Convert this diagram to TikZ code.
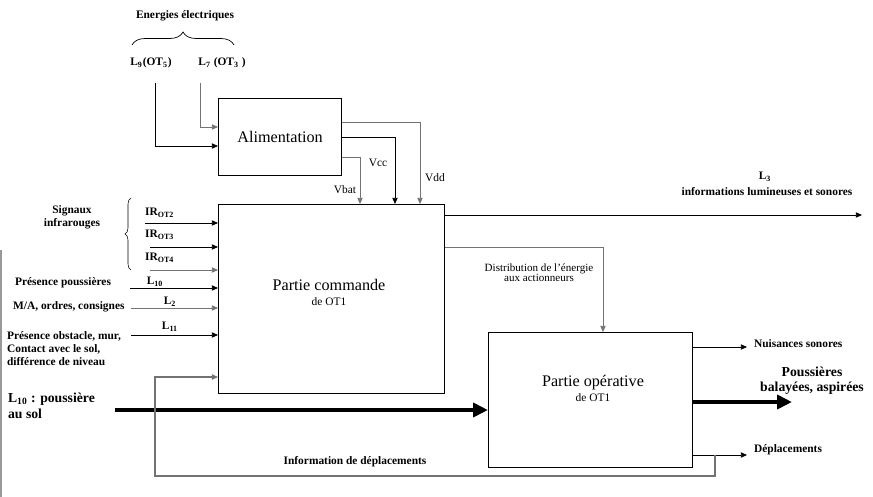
\documentclass[tikz,border=0pt]{standalone}
\usepackage{fontspec}
\setmainfont{Liberation Serif}
\usetikzlibrary{arrows.meta,decorations.pathreplacing}

\begin{document}
\begin{tikzpicture}[x=0.02cm,y=-0.02cm,
		bloc/.style={draw,line width=0.7pt,anchor=north west,inner sep=0pt},
		petit/.style={font=\fontsize{6.5}{7.5}\selectfont\bfseries,inner sep=1pt},
		fin/.style={font=\fontsize{6.5}{7.5}\selectfont,inner sep=1pt},
		grand/.style={font=\fontsize{9.2}{11}\selectfont,inner sep=1pt},
		arr/.style={-{Triangle[length=3.5pt,width=3pt]},line width=0.5pt},
		gros/.style={-{Triangle[length=0.3cm,width=0.28cm]},line width=2.8pt},
		gris/.style={draw=black!55}]
		\useasboundingbox (0,0) rectangle (873,497);
		% bord gauche du scan
		\draw[black!40,line width=0.8pt] (1,250) -- (1,497);
		% Blocs
		\node[bloc,minimum width=2.46cm,minimum height=1.54cm,font=\fontsize{9.2}{11}\selectfont] (alim) at (218,98) {Alimentation};
		\node[bloc,minimum width=4.52cm,minimum height=3.78cm] (commande) at (218,204) {};
		\node[bloc,minimum width=4.08cm,minimum height=2.7cm] (operative) at (488,332) {};
		\node[grand] (cmdtxt) at (329,285) {Partie commande};
		\node[fin] (cmdot) at (329,302) {de OT1};
		\node[grand] (optxt) at (593,383) {Partie opérative};
		\node[fin] (opot) at (593,398) {de OT1};
		% Energies electriques
		\node[petit] (energ) at (185,16) {Energies électriques};
		\draw[decorate,decoration={brace,amplitude=0.26cm}] (132,45) -- (234,45);
		\node[petit] (l9) at (151,63) {L\textsubscript{9}(OT\textsubscript{5})};
		\node[petit] (l7) at (222,63) {L\textsubscript{7} (OT\textsubscript{3} )};
		\coordinate (in9) at (155,83);
		\coordinate (in7) at (200,83);
		\draw[arr] (in9) |- (alim.west |- 0,146);
		\draw[arr,gris] (in7) |- (alim.west |- 0,127);
		% Tensions
		\draw[arr,gris] (alim.east |- 0,122) -| (commande.north -| 420,0);
		\draw[arr] (alim.east |- 0,137) -| (commande.north -| 395,0);
		\draw[arr,gris] (alim.east |- 0,157) -| (commande.north -| 360,0);
		\node[fin] (vdd) at (435,178) {Vdd};
		\node[fin] (vcc) at (378,163) {Vcc};
		\node[fin] (vbat) at (345,190) {Vbat};
		% Signaux infrarouges
		\node[petit,align=center,font=\fontsize{6.5}{7.5}\selectfont\bfseries] (signaux) at (72,217) {Signaux\\infrarouges};
		\draw[decorate,decoration={brace,amplitude=0.12cm},line width=0.3pt] (131,270) -- (131,198);
		\node[petit,anchor=west] (ir2) at (143,213) {IR\textsubscript{OT2}};
		\node[petit,anchor=west] (ir3) at (143,235) {IR\textsubscript{OT3}};
		\node[petit,anchor=west] (ir4) at (143,258) {IR\textsubscript{OT4}};
		\coordinate (inir2) at (145,223);
		\coordinate (inir3) at (150,247);
		\coordinate (inir4) at (150,270);
		\draw[arr] (inir2) -- (commande.west |- inir2);
		\draw[arr] (inir3) -- (commande.west |- inir3);
		\draw[arr,gris] (inir4) -- (commande.west |- inir4);
		% Autres entrees
		\node[petit,anchor=west] (pres) at (13,283) {Présence poussières};
		\node[petit] (l10) at (155,282) {L\textsubscript{10}};
		\coordinate (inl10) at (130,288);
		\draw[arr] (inl10) -- (commande.west |- inl10);
		\node[petit,anchor=west] (ma) at (11,307) {M/A, ordres, consignes};
		\node[petit] (l2) at (170,302) {L\textsubscript{2}};
		\coordinate (inl2) at (131,308);
		\draw[arr,gris] (inl2) -- (commande.west |- inl2);
		\node[petit,anchor=north west,align=left,font=\fontsize{6.5}{7.6}\selectfont\bfseries] (obst) at (5,329) {Présence obstacle, mur,\\Contact avec le sol,\\différence de niveau};
		\node[petit] (l11) at (170,327) {L\textsubscript{11}};
		\coordinate (inl11) at (131,335);
		\draw[arr] (inl11) -- (commande.west |- inl11);
		% Poussiere au sol
		\node[petit,anchor=north west,align=left,font=\fontsize{7.8}{9}\selectfont\bfseries] (sol) at (6,391) {L\textsubscript{10} : poussière\\au sol};
		\coordinate (insol) at (115,410);
		\draw[gros] (insol) -- (operative.west |- insol);
		% Sorties commande
		\coordinate (l3end) at (862,215);
		\draw[arr] (commande.east |- l3end) -- (l3end);
		\node[petit] (l3) at (765,177) {L\textsubscript{3}};
		\node[petit] (infos) at (767,192) {informations lumineuses et sonores};
		\draw[arr,gris] (commande.east |- 0,247) -| (operative.north -| 603,0);
		\node[fin,align=center,font=\fontsize{6.3}{5.8}\selectfont] (distrib) at (539,273) {Distribution de l'énergie\\aux actionneurs};
		% Sorties operative
		\coordinate (nuisend) at (747,347);
		\draw[arr] (operative.east |- nuisend) -- (nuisend);
		\node[petit,anchor=west] (nuis) at (752,344) {Nuisances sonores};
		\coordinate (poussend) at (792,402);
		\draw[gros] (operative.east |- poussend) -- (poussend);
		\node[petit,align=center,font=\fontsize{7.8}{8.6}\selectfont\bfseries] (pouss) at (812,381) {Poussières\\balayées, aspirées};
		\coordinate (deplend) at (747,455);
		\draw[arr] (operative.east |- deplend) -- (deplend);
		\node[petit,anchor=west] (depl) at (752,450) {Déplacements};
		% Retour d'information
		\coordinate (fb) at (715,455);
		\draw[arr,gris,line width=0.8pt] (fb) |- (155,476) |- (commande.west |- 0,377);
		\node[petit] (infodepl) at (355,462) {Information de déplacements};
\end{tikzpicture}
\end{document}
